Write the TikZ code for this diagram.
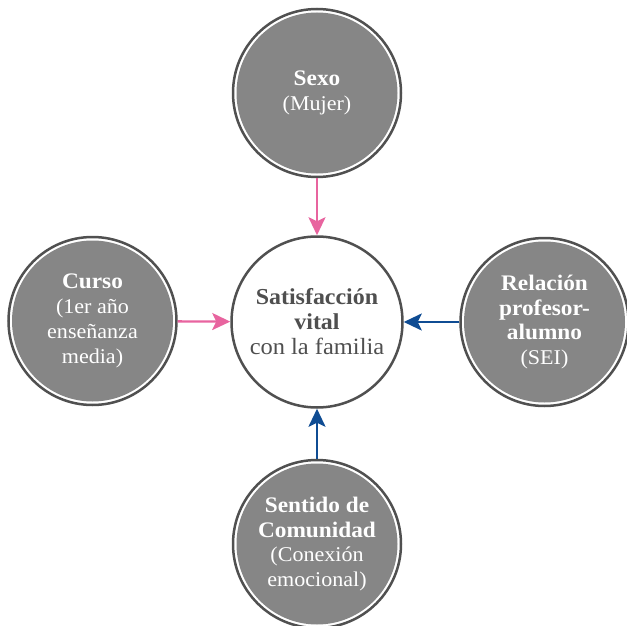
\documentclass[tikz,border=0pt]{standalone}
\usepackage{fontspec}
\setmainfont{Liberation Serif}[FakeStretch=1.05]
\usetikzlibrary{arrows.meta}
\definecolor{ringgray}{HTML}{505050}
\definecolor{discgray}{HTML}{868686}
\definecolor{textgray}{HTML}{4F4F4F}
\definecolor{arrowpink}{HTML}{E8649F}
\definecolor{arrowblue}{HTML}{0F4C93}
% bold heading lines inside the grey discs
\newcommand\facthead[1]{{\fontsize{22.2}{24.8}\selectfont\bfseries #1}}
\tikzset{
  factor/.style={circle, minimum size=168pt, inner sep=0pt, draw=ringgray,
    line width=2.5pt, fill=white, text=white, align=center,
    font=\fontsize{21}{24.8}\selectfont,
    path picture={\fill[discgray] (path picture bounding box.center) circle[radius=80.5pt];}},
  outcome/.style={circle, minimum size=171pt, inner sep=0pt, draw=ringgray,
    line width=2.5pt, fill=white, text=textgray, align=center,
    font=\fontsize{23.3}{25}\selectfont},
  link/.style={line width=2.3pt, -{Stealth[length=18pt,width=17pt,inset=4pt]}},
  pinklink/.style={link, draw=arrowpink, fill=arrowpink},
  bluelink/.style={link, draw=arrowblue, fill=arrowblue}
}
\begin{document}
\begin{tikzpicture}[x=1pt,y=-1pt]
  \useasboundingbox (0,0) rectangle (627,626);
  \node[outcome] (sat) at (317,322) {{\fontsize{22.8}{25}\selectfont\bfseries Satisfacción}\\{\fontsize{22.8}{25}\selectfont\bfseries vital}\\con la familia};
  \node[factor] (sexo) at (317,93) {\facthead{Sexo}\\(Mujer)};
  \node[factor] (curso) at (92.5,321) {\facthead{Curso}\\(1er año\\enseñanza\\media)};
  \node[factor] (rel) at (544.5,322) {\facthead{Relación}\\\facthead{profesor-}\\\facthead{alumno}\\(SEI)};
  \node[factor] (sent) at (317,544) {\facthead{Sentido de}\\\facthead{Comunidad}\\(Conexión\\emocional)};
  \draw[pinklink] (sexo) -- (sat);
  \draw[pinklink] (curso) -- (sat);
  \draw[bluelink] (rel) -- (sat);
  \draw[bluelink] (sent) -- (sat);
\end{tikzpicture}
\end{document}
